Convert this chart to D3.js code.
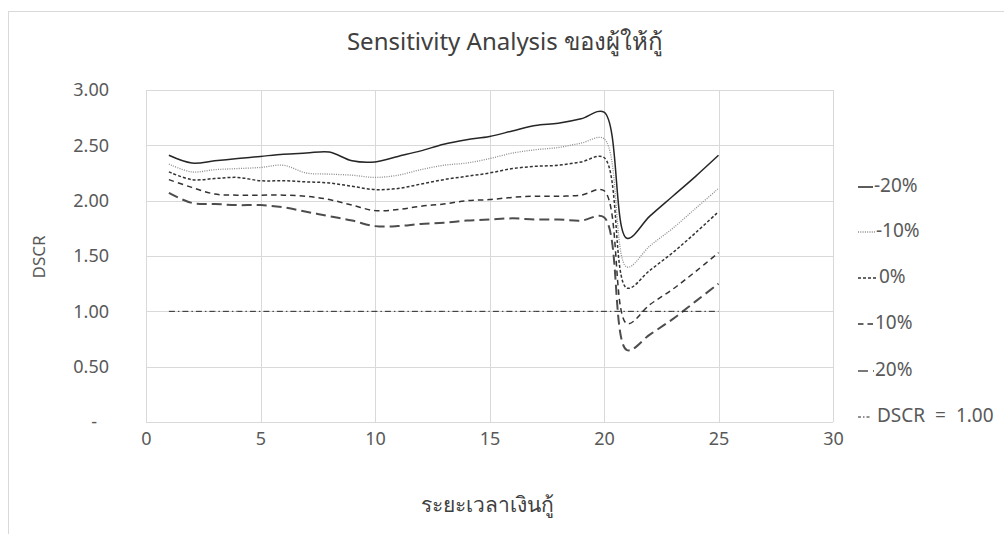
<!DOCTYPE html>
<html>
<head>
<meta charset="utf-8">
<script src="https://cdn.jsdelivr.net/npm/d3@7"></script>
<style>
  html, body { margin: 0; padding: 0; background: #fff; }
  svg { display: block; font-family: "Noto Sans", "Open Sans", sans-serif; }
</style>
</head>
<body>
<svg id="chart" width="1004" height="534"></svg>
<script>
// Loan period (years)
const years = [1,2,3,4,5,6,7,8,9,10,11,12,13,14,15,16,17,18,19,20,21,22,23,24,25];

// DSCR per sensitivity case
const caseMinus20 = [2.41,2.34,2.36,2.38,2.40,2.42,2.43,2.44,2.36,2.35,2.40,2.45,2.51,2.55,2.58,2.63,2.68,2.70,2.74,2.80,1.66,1.86,2.04,2.22,2.41];
const caseMinus10 = [2.33,2.26,2.28,2.29,2.30,2.32,2.25,2.24,2.23,2.21,2.23,2.28,2.32,2.34,2.38,2.43,2.46,2.48,2.52,2.56,1.40,1.59,1.75,1.93,2.11];
const caseZero    = [2.26,2.19,2.20,2.21,2.18,2.18,2.17,2.16,2.13,2.10,2.11,2.15,2.19,2.22,2.25,2.29,2.31,2.32,2.35,2.39,1.21,1.37,1.53,1.71,1.90];
const casePlus10  = [2.19,2.12,2.06,2.05,2.05,2.05,2.04,2.01,1.96,1.91,1.92,1.95,1.97,2.00,2.01,2.03,2.04,2.04,2.05,2.09,0.89,1.06,1.20,1.36,1.53];
const casePlus20  = [2.07,1.98,1.97,1.96,1.96,1.94,1.90,1.86,1.82,1.77,1.77,1.79,1.80,1.82,1.83,1.84,1.83,1.83,1.82,1.85,0.65,0.79,0.93,1.09,1.25];
const threshold   = years.map(() => 1.00);

const seriesNames = ["-20%", "-10%", "0%", "10%", "20%", "DSCR = 1.00"];
const xTicks = [0,5,10,15,20,25,30];
const yTicks = [0,0.5,1,1.5,2,2.5,3];

const titleText = "Sensitivity Analysis ของผู้ให้กู้";
const xTitle = "ระยะเวลาเงินกู้";
const yTitle = "DSCR";

const styles = [
  { color: "#262626", width: 1.5, dash: null },
  { color: "#8c8c8c", width: 1.3, dash: "1,1.3" },
  { color: "#333333", width: 1.5, dash: "3,2" },
  { color: "#333333", width: 1.5, dash: "5.5,4" },
  { color: "#4d4d4d", width: 2,   dash: "10,5" },
  { color: "#262626", width: 1,   dash: "6,3,1.5,3" }
];
const allValues = [caseMinus20, caseMinus10, caseZero, casePlus10, casePlus20, threshold];

const svg = d3.select("#chart");
const plot = { left: 146, right: 833, top: 90, bottom: 422 };

// chart area outline
svg.append("rect").attr("x", 8.5).attr("y", 11.5).attr("width", 1010).attr("height", 540)
  .attr("fill", "#fff").attr("stroke", "#d9d9d9");

const x = d3.scaleLinear().domain([0, 30]).range([plot.left, plot.right]);
const y = d3.scaleLinear().domain([0, 3]).range([plot.bottom, plot.top]);

// gridlines
const grid = svg.append("g").attr("stroke", "#d9d9d9").attr("stroke-width", 1);
yTicks.forEach(t => grid.append("line")
  .attr("x1", plot.left).attr("x2", plot.right)
  .attr("y1", Math.round(y(t)) + 0.5).attr("y2", Math.round(y(t)) + 0.5));
xTicks.forEach(t => grid.append("line")
  .attr("y1", plot.top).attr("y2", plot.bottom)
  .attr("x1", Math.round(x(t)) + 0.5).attr("x2", Math.round(x(t)) + 0.5));

// axes (labels only)
const yAxis = d3.axisLeft(y).tickValues(yTicks).tickSize(0).tickPadding(0)
  .tickFormat(d => d === 0 ? "-" : d3.format(".2f")(d));
const gy = svg.append("g").attr("transform", `translate(${plot.left - 37},0)`).call(yAxis);
gy.select(".domain").remove();
gy.selectAll("text").attr("font-size", 18).attr("fill", "#595959")
  .attr("font-family", "Noto Sans, sans-serif");
gy.selectAll("text").filter(d => d === 0).attr("dx", -12);

const xAxis = d3.axisBottom(x).tickValues(xTicks).tickSize(0).tickPadding(0).tickFormat(d3.format("d"));
const gx = svg.append("g").attr("transform", `translate(0,${plot.bottom + 10})`).call(xAxis);
gx.select(".domain").remove();
gx.selectAll("text").attr("font-size", 18).attr("fill", "#595959")
  .attr("font-family", "Noto Sans, sans-serif");

// series lines
const smooth = d3.line().x((d, i) => x(years[i])).y(d => y(d)).curve(d3.curveCatmullRom.alpha(0.5));
const straight = d3.line().x((d, i) => x(years[i])).y(d => y(d));
allValues.forEach((vals, i) => {
  const st = styles[i];
  svg.append("path").datum(vals)
    .attr("d", i === 5 ? straight(vals) : smooth(vals))
    .attr("fill", "none").attr("stroke", st.color).attr("stroke-width", st.width)
    .attr("stroke-dasharray", st.dash);
});

// titles
svg.append("text").attr("x", 505).attr("y", 50).attr("text-anchor", "middle")
  .attr("font-size", 24).attr("fill", "#404040").text(titleText);
svg.append("text").attr("x", 487).attr("y", 512).attr("text-anchor", "middle")
  .attr("font-size", 21).attr("fill", "#404040").text(xTitle);
svg.append("text").attr("transform", "translate(45,257) rotate(-90)").attr("text-anchor", "middle")
  .attr("font-size", 17).attr("fill", "#595959").text(yTitle);

// legend
const legendY = [185, 230, 276, 322, 369, 415];
const legendLen = [15, 17, 20, 16, 16, 13];
const lg = svg.append("g");
seriesNames.forEach((name, i) => {
  const st = styles[i];
  const yy = legendY[i] + 2;
  lg.append("line").attr("x1", 858).attr("x2", 858 + legendLen[i])
    .attr("y1", yy).attr("y2", yy)
    .attr("stroke", st.color).attr("stroke-width", Math.min(st.width, 1.5))
    .attr("stroke-dasharray", i === 5 ? "3,2,1.5,2" : st.dash);
  lg.append("text").attr("x", 858 + legendLen[i] + (i === 5 ? 6 : 1)).attr("y", legendY[i])
    .attr("dy", "0.35em").attr("font-size", 19).attr("word-spacing", 5)
    .attr("fill", "#595959").text(name);
});
</script>
</body>
</html>
